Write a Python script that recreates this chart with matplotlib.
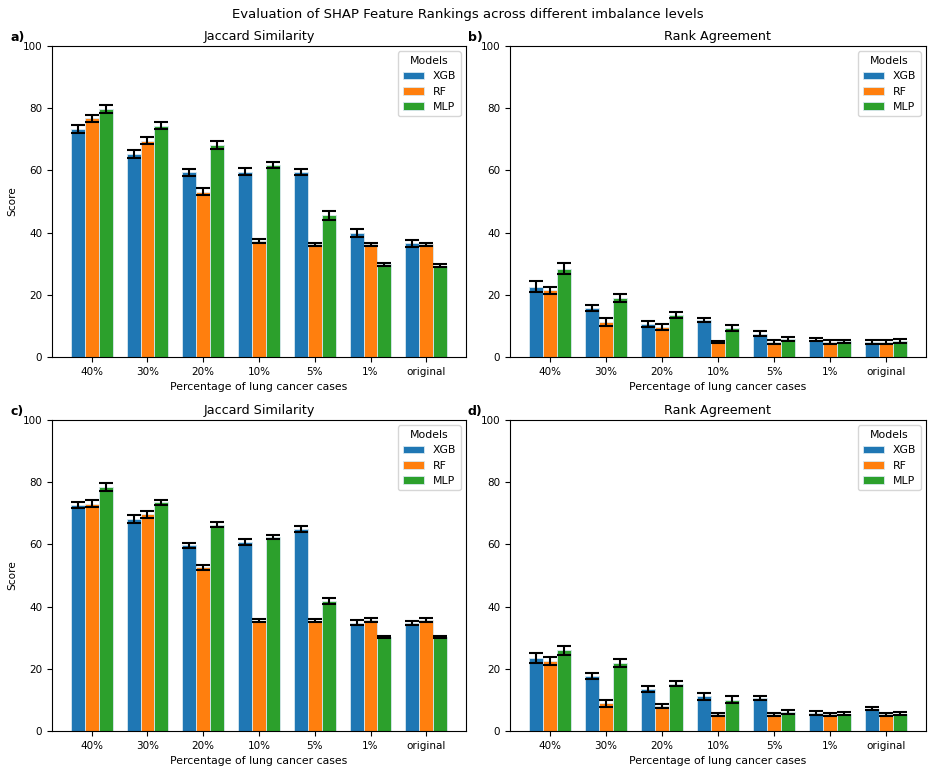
import matplotlib
matplotlib.use("Agg")
import matplotlib.pyplot as plt
import numpy as np

categories = ["40%", "30%", "20%", "10%", "5%", "1%", "original"]
models = ["XGB", "RF", "MLP"]
colors = ["#1f77b4", "#ff7f0e", "#2ca02c"]

# Panel a: Jaccard Similarity (top)
a_xgb = [73.4, 65.3, 59.4, 59.6, 59.6, 39.9, 36.5]
a_rf = [76.7, 69.6, 53.2, 37.3, 36.2, 36.2, 36.2]
a_mlp = [79.7, 74.4, 68.1, 61.7, 45.5, 29.8, 29.4]
a_xgb_err = [1.3, 1.2, 1.2, 1.2, 1.0, 1.2, 1.2]
a_rf_err = [1.1, 1.1, 1.1, 0.5, 0.4, 0.4, 0.4]
a_mlp_err = [1.2, 1.2, 1.2, 1.0, 1.4, 0.5, 0.5]

# Panel b: Rank Agreement (top)
b_xgb = [22.6, 15.7, 10.7, 11.9, 7.4, 5.6, 4.8]
b_rf = [21.5, 11.3, 9.6, 4.8, 4.8, 4.9, 4.9]
b_mlp = [28.4, 19.0, 13.6, 9.4, 5.7, 5.1, 5.1]
b_xgb_err = [1.7, 0.9, 0.9, 0.8, 0.8, 0.5, 0.6]
b_rf_err = [1.1, 1.2, 0.9, 0.4, 0.6, 0.6, 0.6]
b_mlp_err = [1.7, 1.2, 1.0, 0.9, 0.6, 0.5, 0.7]

# Panel c: Jaccard Similarity (bottom)
c_xgb = [72.6, 68.1, 59.7, 60.8, 64.9, 34.8, 34.7]
c_rf = [73.1, 69.7, 52.7, 35.5, 35.5, 35.6, 35.6]
c_mlp = [78.4, 73.5, 66.3, 62.3, 41.9, 30.3, 30.3]
c_xgb_err = [0.9, 1.2, 0.8, 1.0, 1.0, 0.8, 0.7]
c_rf_err = [1.2, 1.2, 0.8, 0.5, 0.5, 0.6, 0.6]
c_mlp_err = [1.2, 0.9, 0.8, 0.7, 1.0, 0.4, 0.4]

# Panel d: Rank Agreement (bottom)
d_xgb = [23.5, 17.6, 13.5, 11.1, 10.7, 5.9, 7.2]
d_rf = [22.4, 8.9, 8.0, 5.4, 5.4, 5.4, 5.4]
d_mlp = [25.9, 21.9, 15.2, 10.1, 6.1, 5.6, 5.6]
d_xgb_err = [1.5, 1.0, 1.0, 1.0, 0.7, 0.6, 0.5]
d_rf_err = [1.3, 1.1, 0.7, 0.5, 0.5, 0.5, 0.5]
d_mlp_err = [1.5, 1.2, 0.8, 1.0, 0.6, 0.5, 0.5]

panels = [
    ("a)", "Jaccard Similarity", [a_xgb, a_rf, a_mlp], [a_xgb_err, a_rf_err, a_mlp_err]),
    ("b)", "Rank Agreement", [b_xgb, b_rf, b_mlp], [b_xgb_err, b_rf_err, b_mlp_err]),
    ("c)", "Jaccard Similarity", [c_xgb, c_rf, c_mlp], [c_xgb_err, c_rf_err, c_mlp_err]),
    ("d)", "Rank Agreement", [d_xgb, d_rf, d_mlp], [d_xgb_err, d_rf_err, d_mlp_err]),
]

fig = plt.figure(figsize=(9.35, 7.72), dpi=100)
W, H = 935, 772
boxes = [
    (52, 46, 466, 357),
    (510, 46, 926, 357),
    (52, 420, 466, 731),
    (510, 420, 926, 731),
]

x = np.arange(len(categories))
width = 0.25
for (lbl, title, vals, errs), (l, t, r, b) in zip(panels, boxes):
    ax = fig.add_axes([l / W, 1 - b / H, (r - l) / W, (b - t) / H])
    for i, (m, v, e, c) in enumerate(zip(models, vals, errs, colors)):
        ax.bar(x + (i - 1) * width, v, width, yerr=e, capsize=5, label=m,
               color=c, edgecolor="#d8e8f0", linewidth=0.6,
               error_kw=dict(ecolor="black", elinewidth=1.5, capthick=1.5))
    ax.set_ylim(0, 100)
    ax.set_xticks(x)
    ax.set_xticklabels(categories, fontsize=7.5)
    ax.tick_params(axis="y", labelsize=7.5)
    ax.set_title(title, fontsize=9.2, pad=4)
    ax.set_xlabel("Percentage of lung cancer cases", fontsize=7.8)
    if lbl in ("a)", "c)"):
        ax.set_ylabel("Score", fontsize=7.6)
    ax.legend(title="Models", loc="upper right", fontsize=7.8, title_fontsize=7.8)
    ax.text(-0.101, 1.005, lbl, transform=ax.transAxes, fontsize=9,
            fontweight="bold", ha="left", va="bottom")

fig.suptitle("Evaluation of SHAP Feature Rankings across different imbalance levels",
             fontsize=9.5, y=0.99)
fig.savefig("out.png", dpi=100)
